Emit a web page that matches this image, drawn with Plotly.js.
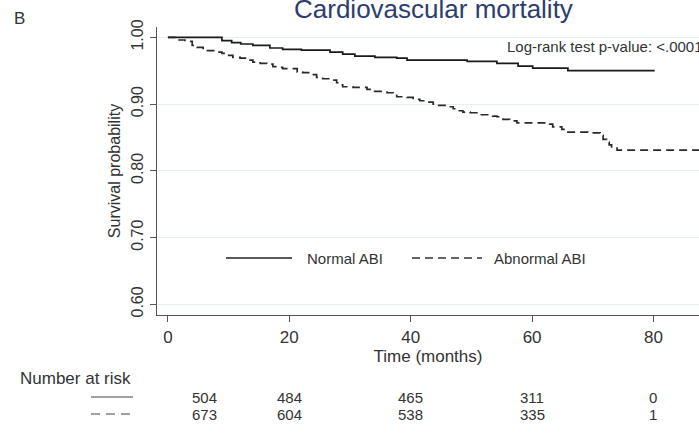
<!DOCTYPE html>
<html>
<head>
<meta charset="utf-8">
<script src="https://cdn.plot.ly/plotly-3.0.1.min.js"></script>
<style>html,body{margin:0;padding:0;background:#fff;}#chart{width:699px;height:435px;}</style>
</head>
<body>
<div id="chart"></div>
<script>
// Kaplan-Meier step data
const normalTimes = [0, 8.9, 10.5, 12.0, 14.0, 16.8, 18.9, 22.0, 26.7, 28.8, 30.8, 34.1, 37.7, 39.4, 49.3, 54.2, 57.7, 60.1, 65.9, 80.2];
const normalSurv  = [1.0, 0.995, 0.992, 0.990, 0.988, 0.984, 0.982, 0.981, 0.978, 0.975, 0.972, 0.970, 0.969, 0.966, 0.964, 0.961, 0.957, 0.954, 0.950, 0.950];

const abnormalTimes = [0, 1.2, 2.8, 4.0, 4.8, 5.8, 8.2, 8.9, 9.7, 10.7, 11.9, 13.0, 14.0, 15.2, 16.3, 17.3, 18.0, 18.9, 21.3, 22.2, 23.4, 24.5, 25.5, 27.2, 27.8, 28.3, 28.8, 30.5, 32.8, 33.8, 35.4, 36.1, 37.1, 37.7, 39.4, 40.4, 41.5, 42.7, 43.7, 44.3, 46.0, 47.0, 47.6, 48.6, 49.8, 50.9, 53.5, 54.2, 55.2, 56.3, 57.5, 62.9, 63.4, 64.9, 65.4, 69.2, 71.2, 71.7, 72.3, 72.7, 73.1, 74.0, 87.5];
const abnormalSurv  = [1.0, 0.996, 0.994, 0.988, 0.985, 0.980, 0.978, 0.976, 0.973, 0.970, 0.969, 0.966, 0.963, 0.961, 0.960, 0.956, 0.955, 0.953, 0.948, 0.947, 0.944, 0.940, 0.938, 0.936, 0.932, 0.929, 0.926, 0.925, 0.922, 0.919, 0.918, 0.917, 0.915, 0.911, 0.910, 0.907, 0.905, 0.903, 0.900, 0.898, 0.896, 0.893, 0.890, 0.888, 0.887, 0.884, 0.882, 0.881, 0.877, 0.875, 0.872, 0.870, 0.866, 0.862, 0.858, 0.857, 0.853, 0.847, 0.843, 0.839, 0.836, 0.831, 0.831];

const seriesNames = ["Normal ABI", "Abnormal ABI"];
const riskTimes = [0, 20, 40, 60, 80];
const riskNormal = [504, 484, 465, 311, 0];
const riskAbnormal = [673, 604, 538, 335, 1];
const yTicks = [0.6, 0.7, 0.8, 0.9, 1.0];
const yTickText = ["0.60", "0.70", "0.80", "0.90", "1.00"];
const xTicks = [0, 20, 40, 60, 80];

const FONT = "Liberation Sans, Arial, sans-serif";
const TXT = "#333333";

const traces = [
  {x: normalTimes, y: normalSurv, mode: "lines", line: {shape: "hv", color: "#1a1a1a", width: 1.7}, name: seriesNames[0], showlegend: false, hoverinfo: "x+y"},
  {x: abnormalTimes, y: abnormalSurv, mode: "lines", line: {shape: "hv", color: "#2a2a2a", width: 1.7, dash: "8px,5px"}, name: seriesNames[1], showlegend: false, hoverinfo: "x+y"}
];

const px = v => (v-157)/542;
const py = v => (315-v)/288;

const annotations = [
  {xref: "paper", yref: "paper", x: px(433), y: 1.003, xanchor: "center", yanchor: "bottom", text: "Cardiovascular mortality", showarrow: false, font: {family: FONT, size: 26, color: "#2c3d6e"}},
  {xref: "paper", yref: "paper", x: px(12), y: py(18), xanchor: "left", yanchor: "middle", text: "B", showarrow: false, font: {family: FONT, size: 17, color: "#333"}},
  {xref: "paper", yref: "paper", x: px(505), y: py(46), xanchor: "left", yanchor: "middle", text: "Log-rank test p-value: <.0001", showarrow: false, font: {family: FONT, size: 15, color: TXT}},
  {xref: "paper", yref: "paper", x: px(305), y: py(258), xanchor: "left", yanchor: "middle", text: seriesNames[0], showarrow: false, font: {family: FONT, size: 15, color: TXT}},
  {xref: "paper", yref: "paper", x: px(492), y: py(258), xanchor: "left", yanchor: "middle", text: seriesNames[1], showarrow: false, font: {family: FONT, size: 15, color: TXT}},
  {xref: "paper", yref: "paper", x: px(18), y: py(378), xanchor: "left", yanchor: "middle", text: "Number at risk", showarrow: false, font: {family: FONT, size: 17, color: TXT}}
];
riskTimes.forEach((t, i) => {
  const sh = i === 0 ? 37 : 0;
  annotations.push({xref: "x", yref: "paper", x: t, xshift: sh, y: py(397), xanchor: "center", yanchor: "middle", text: String(riskNormal[i]), showarrow: false, borderpad: 0, font: {family: FONT, size: 15, color: TXT}});
  annotations.push({xref: "x", yref: "paper", x: t, xshift: sh, y: py(414), xanchor: "center", yanchor: "middle", text: String(riskAbnormal[i]), showarrow: false, borderpad: 0, font: {family: FONT, size: 15, color: TXT}});
});

const shapes = [
  {type: "line", xref: "paper", yref: "paper", x0: px(226), x1: px(292), y0: py(258), y1: py(258), line: {color: "#222", width: 1.3}},
  {type: "line", xref: "paper", yref: "paper", x0: px(412), x1: px(482), y0: py(258), y1: py(258), line: {color: "#333", width: 1.3, dash: "8px,5px"}},
  {type: "line", xref: "paper", yref: "paper", x0: px(91), x1: px(133), y0: py(397), y1: py(397), line: {color: "#444", width: 1.1}},
  {type: "line", xref: "paper", yref: "paper", x0: px(91), x1: px(133), y0: py(414), y1: py(414), line: {color: "#444", width: 1.1, dash: "9px,6px"}}
];

const layout = {
  width: 699, height: 435,
  margin: {l: 157, r: 0, t: 27, b: 120, pad: 0},
  paper_bgcolor: "#ffffff", plot_bgcolor: "#ffffff",
  showlegend: false,
  font: {family: FONT, color: TXT},
  xaxis: {
    range: [-1.8, 87.5], tickvals: xTicks, ticktext: xTicks.map(String),
    showline: true, linecolor: "#555", linewidth: 1.3, ticks: "outside", ticklen: 6, tickcolor: "#555",
    showgrid: false, zeroline: false,
    tickfont: {family: FONT, size: 17, color: TXT},
    title: {text: "Time (months)", font: {family: FONT, size: 17, color: TXT}, standoff: 0}
  },
  yaxis: {
    range: [0.584, 1.0155], tickvals: yTicks, ticktext: yTickText, tickangle: -90,
    showline: true, linecolor: "#555", linewidth: 1.3, ticks: "outside", ticklen: 6, tickcolor: "#555",
    showgrid: true, gridcolor: "#e6efef", gridwidth: 1, zeroline: false,
    tickfont: {family: FONT, size: 16, color: TXT},
    title: {text: "Survival probability", font: {family: FONT, size: 16, color: TXT}, standoff: 4}
  },
  annotations: annotations,
  shapes: shapes
};

Plotly.newPlot("chart", traces, layout, {displayModeBar: false, staticPlot: true});
</script>
</body>
</html>
